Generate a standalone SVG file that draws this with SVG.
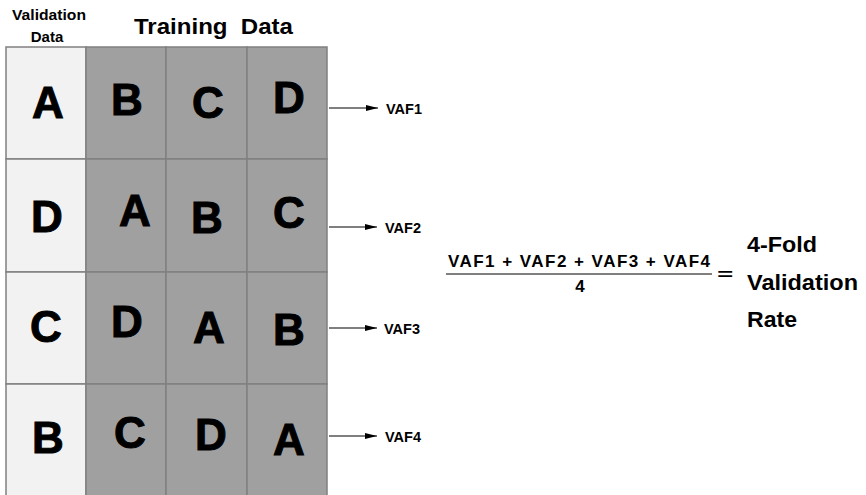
<svg xmlns="http://www.w3.org/2000/svg" width="866" height="495" viewBox="0 0 866 495">
<style>
.light{fill:#f2f2f2;stroke:#808080;stroke-width:1.5}
.dark{fill:#a0a0a0;stroke:#808080;stroke-width:1.5}
.big{font-family:"Liberation Sans",Arial,sans-serif;font-weight:bold;font-size:44px;fill:#000;text-anchor:middle;stroke:#000;stroke-width:1}
.lbl{font-family:"Liberation Sans",Arial,sans-serif;font-weight:bold;font-size:14.5px;fill:#000}
.hdr{font-family:"Liberation Sans",Arial,sans-serif;font-weight:bold;fill:#000}
.conn{stroke:#000;stroke-width:1.2;fill:none}
</style>
<defs>
<marker id="ah" markerWidth="12" markerHeight="6" refX="12" refY="3" orient="auto" markerUnits="userSpaceOnUse">
<path d="M0,0 L12,3 L0,6 Z" fill="#000"/>
</marker>
</defs>
<rect width="866" height="495" fill="#fff"/>
<g id="headers">
<text class="hdr" font-size="15" x="12" y="20" textLength="74" lengthAdjust="spacingAndGlyphs">Validation</text>
<text class="hdr" font-size="15" x="47" y="42" text-anchor="middle">Data</text>
<text class="hdr" font-size="22" x="134" y="34" xml:space="preserve" textLength="159" lengthAdjust="spacingAndGlyphs">Training  Data</text>
</g>
<g id="row1">
<rect class="light" x="6" y="47" width="80" height="112"/>
<rect class="dark" x="86" y="47" width="80" height="112"/>
<rect class="dark" x="166" y="47" width="81" height="112"/>
<rect class="dark" x="247" y="47" width="80" height="112"/>
<text class="big" x="48" y="118">A</text>
<text class="big" x="127" y="115">B</text>
<text class="big" x="208" y="118">C</text>
<text class="big" x="289" y="113">D</text>
</g>
<g id="row2">
<rect class="light" x="6" y="159" width="80" height="113"/>
<rect class="dark" x="86" y="159" width="80" height="113"/>
<rect class="dark" x="166" y="159" width="81" height="113"/>
<rect class="dark" x="247" y="159" width="80" height="113"/>
<text class="big" x="47" y="232">D</text>
<text class="big" x="135" y="226">A</text>
<text class="big" x="207" y="233">B</text>
<text class="big" x="289" y="228">C</text>
</g>
<g id="row3">
<rect class="light" x="6" y="272" width="80" height="112"/>
<rect class="dark" x="86" y="272" width="80" height="112"/>
<rect class="dark" x="166" y="272" width="81" height="112"/>
<rect class="dark" x="247" y="272" width="80" height="112"/>
<text class="big" x="46" y="342">C</text>
<text class="big" x="127" y="337">D</text>
<text class="big" x="209" y="343">A</text>
<text class="big" x="289" y="345">B</text>
</g>
<g id="row4">
<rect class="light" x="6" y="384" width="80" height="115"/>
<rect class="dark" x="86" y="384" width="80" height="115"/>
<rect class="dark" x="166" y="384" width="81" height="115"/>
<rect class="dark" x="247" y="384" width="80" height="115"/>
<text class="big" x="48" y="453">B</text>
<text class="big" x="130" y="448">C</text>
<text class="big" x="211" y="450">D</text>
<text class="big" x="289" y="455">A</text>
</g>
<g id="connectors">
<line class="conn" x1="329" y1="108" x2="378" y2="108" marker-end="url(#ah)"/>
<line class="conn" x1="329" y1="227" x2="377" y2="227" marker-end="url(#ah)"/>
<line class="conn" x1="329" y1="328" x2="377" y2="328" marker-end="url(#ah)"/>
<line class="conn" x1="329" y1="436" x2="377" y2="436" marker-end="url(#ah)"/>
</g>
<g id="labels">
<text class="lbl" x="386" y="114">VAF1</text>
<text class="lbl" x="385" y="233">VAF2</text>
<text class="lbl" x="384" y="334">VAF3</text>
<text class="lbl" x="385" y="442">VAF4</text>
</g>
<g id="equation">
<text class="hdr" font-size="17" x="448" y="267" textLength="262" lengthAdjust="spacing">VAF1 + VAF2 + VAF3 + VAF4</text>
<line x1="446" y1="274" x2="712" y2="274" stroke="#000" stroke-width="1"/>
<text class="hdr" font-size="17" x="580" y="292" text-anchor="middle">4</text>
<text font-family="'DejaVu Sans',sans-serif" font-size="22" x="716" y="281">=</text>
<text class="hdr" font-size="22" x="747" y="252" textLength="70" lengthAdjust="spacingAndGlyphs">4-Fold</text>
<text class="hdr" font-size="22" x="747" y="290" textLength="111" lengthAdjust="spacingAndGlyphs">Validation</text>
<text class="hdr" font-size="22" x="747" y="327" textLength="50" lengthAdjust="spacingAndGlyphs">Rate</text>
</g>
</svg>
